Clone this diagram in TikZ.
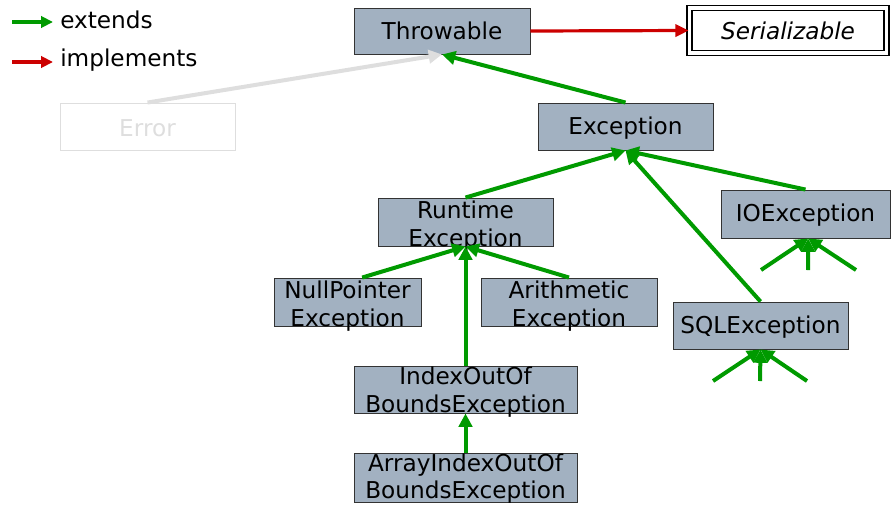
\documentclass[tikz,border=0pt]{standalone}
\usepackage{fontspec}
\setmainfont{DejaVu Sans}
\usetikzlibrary{arrows.meta}
\definecolor{boxfill}{HTML}{A2B1C1}
\definecolor{ext}{HTML}{009A00}
\definecolor{impl}{HTML}{CC0000}
\definecolor{faint}{HTML}{DEDEDE}
\begin{document}
\begin{tikzpicture}[x=0.75pt,y=-0.75pt,
  cls/.style={draw=black!80,line width=0.7pt,fill=boxfill,inner sep=0pt,minimum height=35.25pt},
  txt/.style={inner sep=0pt,align=center,font=\fontsize{17.4}{20.5}\selectfont},
  extarrow/.style={draw=ext,line width=3pt,-{Triangle[length=10pt,width=10pt]}},
  implarrow/.style={draw=impl,line width=2.4pt,-{Triangle[length=10pt,width=9pt]}},
  fadearrow/.style={draw=faint,line width=3pt,-{Triangle[length=10pt,width=10pt]}}]
\useasboundingbox (0,0) rectangle (891,504);
% legend
\coordinate (l1a) at (12,22); \coordinate (l1b) at (53,22);
\coordinate (l2a) at (12,62); \coordinate (l2b) at (53,62);
\draw[extarrow,line width=2.4pt,-{Triangle[length=9pt,width=8.5pt]}] (l1a) -- (l1b);
\draw[implarrow,-{Triangle[length=9pt,width=8.5pt]}] (l2a) -- (l2b);
\node[txt,anchor=west] (lt1) at (60,20) {extends};
\node[txt,anchor=west] (lt2) at (60,60) {implements};
% boxes
\node[cls,minimum width=132pt,minimum height=34.5pt] (thr) at (442,31) {};
\node[txt] (thrt) at (thr) {Throwable};
\node[draw=black,double=white,line width=1.1pt,double distance=2.8pt,fill=white,inner sep=0pt,minimum width=147.75pt,minimum height=33.75pt] (ser) at (788,30.5) {};
\node[txt,font=\fontsize{17.4}{20.5}\selectfont\itshape] (sert) at (ser) {Serializable};
\node[draw=faint,line width=0.7pt,inner sep=0pt,minimum width=131.25pt,minimum height=35.25pt] (err) at (147.5,126.5) {};
\node[txt,text=faint] (errt) at ([yshift=-1pt]err) {Error};
\node[cls,minimum width=131.25pt] (exc) at (625.5,126.5) {};
\node[txt] (exct) at ([yshift=-1pt]exc) {Exception};
\node[cls,minimum width=131.25pt,minimum height=36pt] (rt) at (465.5,222) {};
\node[txt] (rtt) at ([yshift=-3pt]rt) {Runtime\\Exception};
\node[cls,minimum width=126.75pt,minimum height=36pt] (io) at (805.5,214) {};
\node[txt] (iot) at ([yshift=-1pt]io) {IOException};
\node[cls,minimum width=110.25pt,minimum height=36pt] (np) at (347.5,302) {};
\node[txt] (npt) at ([yshift=-3pt]np) {NullPointer\\Exception};
\node[cls,minimum width=132pt,minimum height=36pt] (ar) at (569,302) {};
\node[txt] (art) at ([yshift=-3pt]ar) {Arithmetic\\Exception};
\node[cls,minimum width=131.25pt] (sql) at (760.5,325.5) {};
\node[txt] (sqlt) at ([yshift=-1pt]sql) {SQLException};
\node[cls,minimum width=167.25pt] (ioob) at (465.5,389.5) {};
\node[txt] (ioobt) at ([yshift=-2pt]ioob) {IndexOutOf\\BoundsException};
\node[cls,minimum width=167.25pt,minimum height=36.75pt] (aioob) at (465.5,477.5) {};
\node[txt] (aioobt) at ([yshift=-1pt]aioob) {ArrayIndexOutOf\\BoundsException};
% connectors
\draw[implarrow] (thr.east) -- (ser.west);
\draw[fadearrow] (err.north) -- (thr.south);
\draw[extarrow] (exc.north) -- (thr.south);
\draw[extarrow] (rt.north) -- (exc.south);
\draw[extarrow] (io.north) -- (exc.south);
\draw[extarrow] (sql.north) -- (exc.south);
\draw[extarrow] ([xshift=11pt]np.north) -- (rt.south);
\draw[extarrow] (ar.north) -- (rt.south);
\draw[extarrow] (ioob.north) -- (rt.south);
\draw[extarrow] (aioob.north) -- (ioob.south);
\coordinate (io1) at (761,270); \coordinate (io2) at (808,270); \coordinate (io3) at (856,270);
\coordinate (sq1) at (713,381); \coordinate (sq2) at (760,381); \coordinate (sq3) at (807,381);
\foreach \c in {io1,io2,io3} \draw[extarrow] (\c) -- ([xshift=2pt]io.south);
\foreach \c in {sq1,sq2,sq3} \draw[extarrow] (\c) -- (sql.south);
\end{tikzpicture}
\end{document}
